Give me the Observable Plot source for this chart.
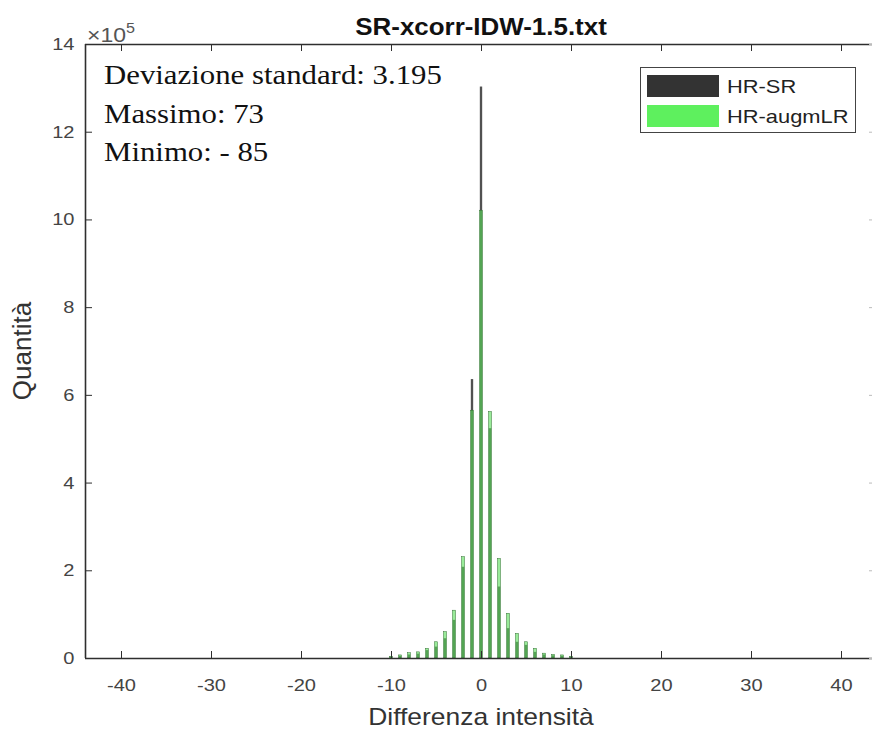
<!DOCTYPE html>
<html><head><meta charset="utf-8">
<script src="https://cdn.jsdelivr.net/npm/d3@7"></script>
<script src="https://cdn.jsdelivr.net/npm/@observablehq/plot@0.6"></script>
<style>
html,body{margin:0;padding:0;background:#fff;overflow:hidden}
#wrap{position:relative;width:872px;height:733px;font-family:"Liberation Sans",Arial,sans-serif;overflow:hidden}
#wrap svg{position:absolute;left:0;top:0;overflow:hidden}
.ov{position:absolute;white-space:nowrap;line-height:1}
#title{left:481px;top:15px;font-weight:bold;font-size:24px;color:#111;transform:translateX(-50%) scaleX(1.08)}
#exp{left:87px;top:21px;font-size:20px;color:#555;transform-origin:0 0;transform:scaleX(1.15)}
#exp sup{font-size:14px;vertical-align:9px}
#ylab{left:22px;top:351px;font-size:26px;color:#333;transform:translate(-50%,-50%) rotate(-90deg)}
#xlab{left:481px;top:705px;font-size:24px;color:#333;transform:translateX(-50%) scaleX(1.1)}
.stat{left:104px;font-family:"Liberation Serif","Times New Roman",serif;font-size:28px;color:#111;transform-origin:0 0;transform:scaleX(1.1)}
#legend{left:640px;top:67px;width:216px;height:66px;border:1.5px solid #444;background:#fff;box-sizing:border-box}
.lrow{position:absolute;left:6px;height:22px;display:flex;align-items:center;font-size:19px;color:#222}
.sw{width:72px;height:22px;margin-right:8px}
.lrow span{display:inline-block;transform-origin:0 50%;transform:scaleX(1.15)}
</style></head><body><div id="wrap"></div>
<script>
// Histogram bins (integer intensity differences)
const bins = [-10,-9,-8,-7,-6,-5,-4,-3,-2,-1,0,1,2,3,4,5,6,7,8,9,10];
// Counts in units of 10^5
const hrSR =      [0.03,0.05,0.08,0.10,0.18,0.26,0.45,0.87,2.08,6.36,13.03,5.24,1.63,0.68,0.37,0.30,0.14,0.08,0.06,0.05,0.03];
const hrAugmLR =  [0.04,0.07,0.12,0.14,0.22,0.37,0.60,1.09,2.31,5.65,10.21,5.62,2.27,1.02,0.56,0.37,0.22,0.11,0.08,0.07,0.04];
const seriesNames = ["HR-SR","HR-augmLR"];
const seriesColors = ["#333333","#5ef05e"];
const xTicks = [-40,-30,-20,-10,0,10,20,30,40];
const yTicks = [0,2,4,6,8,10,12,14];
const xDomain = [-44,44];
const yDomain = [0,14];
const titleText = "SR-xcorr-IDW-1.5.txt";
const xLabel = "Differenza intensità";
const yLabel = "Quantità";
const statsLines = ["Deviazione standard: 3.195","Massimo: 73","Minimo: - 85"];

const W = 872, H = 733, mL = 85, mT = 44, mB = 75;
const frameH = H - mT - mB, frameW = W - mL;
const darkData = bins.map((b,i)=>({bin:b, value:hrSR[i]}));
const greenData = bins.map((b,i)=>({bin:b, value:hrAugmLR[i]}));
const axisColor = "#2e2e2e";

const chart = Plot.plot({
  width: W, height: H,
  marginLeft: mL, marginRight: 0, marginTop: mT, marginBottom: mB,
  x: {domain: xDomain, range: [mL, 877]},
  y: {domain: yDomain},
  style: {fontFamily: '"Liberation Sans", Arial, sans-serif', fontSize: "17px", color: "#444", background: "#fff"},
  marks: [
    Plot.rectY(darkData, {x1: d => d.bin - 0.13, x2: d => d.bin + 0.13, y: "value", fill: seriesColors[0], fillOpacity: 0.85}),
    Plot.rectY(greenData, {x1: d => d.bin - 0.16, x2: d => d.bin + 0.16, y: "value", fill: "#55dd55", fillOpacity: 0.6, stroke: "#2f6f2f", strokeWidth: 0.5}),
    // box
    Plot.ruleY([yDomain[0]], {stroke: axisColor, strokeWidth: 1.6}),
    Plot.ruleY([yDomain[1]], {stroke: axisColor, strokeWidth: 1.6}),
    Plot.ruleX([xDomain[0]], {stroke: axisColor, strokeWidth: 1.6}),
    // inward ticks
    Plot.tickX(xTicks, {x: d => d, insetTop: frameH - 7, stroke: axisColor}),
    Plot.tickX(xTicks, {x: d => d, insetBottom: frameH - 7, stroke: axisColor}),
    Plot.tickY(yTicks, {y: d => d, insetRight: frameW - 7, stroke: axisColor}),
    Plot.tickY(yTicks, {y: d => d, insetLeft: frameW - 3, stroke: "#bbb"}),
    Plot.axisX(xTicks, {tickSize: 0, tickPadding: 20, label: null, fontSize: 17, tickFormat: d => `${d}`}),
    Plot.axisY(yTicks, {tickSize: 0, tickPadding: 11, label: null, fontSize: 17, tickFormat: d => `${d}`})
  ]
});

// widen tick labels slightly to match the reference's stretched glyphs
const sx = 1.18;
d3.select(chart).selectAll('[aria-label="x-axis tick label"] text, [aria-label="y-axis tick label"] text').each(function() {
  const t = this.getAttribute("transform") || "";
  const xa = this.getAttribute("x");
  if (xa !== null && !isNaN(+xa)) this.setAttribute("x", +xa / sx);
  this.setAttribute("transform", `${t} scale(${sx},1)`);
});

const wrap = document.getElementById("wrap");
wrap.appendChild(chart);

function ov(id, cls, html, style) {
  const d = document.createElement("div");
  if (id) d.id = id;
  d.className = "ov" + (cls ? " " + cls : "");
  d.innerHTML = html;
  if (style) Object.assign(d.style, style);
  wrap.appendChild(d);
  return d;
}
ov("title", "", titleText);
ov("exp", "", "×10<sup>5</sup>");
ov("ylab", "", yLabel);
ov("xlab", "", xLabel);
statsLines.forEach((t, i) => ov(null, "stat", t, {top: (61 + i * 38.5) + "px"}));
const leg = ov("legend", "", "");
seriesNames.forEach((n, i) => {
  const r = document.createElement("div");
  r.className = "lrow";
  r.style.top = (7 + i * 30) + "px";
  r.innerHTML = `<div class="sw" style="background:${seriesColors[i]}"></div><span>${n}</span>`;
  leg.appendChild(r);
});
</script></body></html>
